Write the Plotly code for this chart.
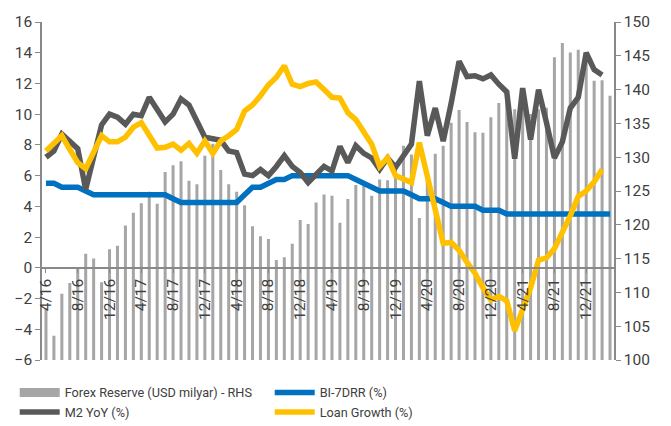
import plotly.graph_objects as go

# Monthly categories, Apr 2016 - Mar 2022
months = [
    "4/16", "5/16", "6/16", "7/16", "8/16", "9/16", "10/16", "11/16", "12/16",
    "1/17", "2/17", "3/17", "4/17", "5/17", "6/17", "7/17", "8/17", "9/17", "10/17", "11/17", "12/17",
    "1/18", "2/18", "3/18", "4/18", "5/18", "6/18", "7/18", "8/18", "9/18", "10/18", "11/18", "12/18",
    "1/19", "2/19", "3/19", "4/19", "5/19", "6/19", "7/19", "8/19", "9/19", "10/19", "11/19", "12/19",
    "1/20", "2/20", "3/20", "4/20", "5/20", "6/20", "7/20", "8/20", "9/20", "10/20", "11/20", "12/20",
    "1/21", "2/21", "3/21", "4/21", "5/21", "6/21", "7/21", "8/21", "9/21", "10/21", "11/21", "12/21",
    "1/22", "2/22", "3/22",
]
tick_labels = ["4/16", "8/16", "12/16", "4/17", "8/17", "12/17", "4/18", "8/18", "12/18",
               "4/19", "8/19", "12/19", "4/20", "8/20", "12/20", "4/21", "8/21", "12/21"]

forex_reserve = [
    107.7, 103.6, 109.8, 111.4, 113.5, 115.7, 115.0, 111.5, 116.4,
    116.9, 119.9, 121.8, 123.2, 124.9, 123.1, 127.8, 128.8, 129.4, 126.5, 126.0, 130.2,
    132.0, 128.1, 126.0, 124.9, 122.9, 119.8, 118.3, 117.9, 114.8, 115.2, 117.2, 120.7,
    120.1, 123.3, 124.5, 124.3, 120.3, 123.8, 125.9, 126.4, 124.3, 126.7, 126.6, 129.2,
    131.7, 130.4, 121.0, 127.9, 130.5, 131.7, 135.1, 137.0, 135.2, 133.7, 133.6, 135.9,
    138.0, 138.8, 137.1, 138.8, 136.4, 137.1, 137.3, 144.8, 146.9, 145.5, 145.9, 144.9,
    141.3, 141.4, 139.1,
]
bi_7drr = [
    5.5, 5.5, 5.25, 5.25, 5.25, 5.0, 4.75, 4.75, 4.75,
    4.75, 4.75, 4.75, 4.75, 4.75, 4.75, 4.75, 4.5, 4.25, 4.25, 4.25, 4.25,
    4.25, 4.25, 4.25, 4.25, 4.75, 5.25, 5.25, 5.5, 5.75, 5.75, 6.0, 6.0,
    6.0, 6.0, 6.0, 6.0, 6.0, 6.0, 5.75, 5.5, 5.25, 5.0, 5.0, 5.0,
    5.0, 4.75, 4.5, 4.5, 4.5, 4.25, 4.0, 4.0, 4.0, 4.0, 3.75, 3.75,
    3.75, 3.5, 3.5, 3.5, 3.5, 3.5, 3.5, 3.5, 3.5, 3.5, 3.5, 3.5,
    3.5, 3.5, 3.5,
]
m2_yoy = [
    7.2, 7.6, 8.7, 8.25, 7.75, 5.1, 7.3, 9.3, 10.0,
    9.8, 9.35, 10.0, 9.9, 11.1, 10.3, 9.5, 10.0, 11.0, 10.6, 9.45, 8.5,
    8.4, 8.3, 7.6, 7.5, 6.1, 6.0, 6.4, 6.0, 6.6, 7.3, 6.6, 6.2,
    5.55, 6.1, 6.6, 6.3, 7.9, 6.85, 7.95, 7.45, 7.15, 6.4, 7.15, 6.55,
    7.3, 8.05, 12.15, 8.6, 10.4, 8.25, 10.7, 13.45, 12.45, 12.5, 12.3, 12.55,
    11.95, 11.45, 7.1, 11.7, 8.35, 11.6, 9.45, 7.15, 8.2, 10.4, 11.1, 14.0,
    12.9, 12.55,
]
loan_growth = [
    7.6, 8.15, 8.6, 7.7, 6.85, 6.45, 7.5, 8.6, 8.2,
    8.2, 8.5, 9.15, 9.45, 8.7, 7.8, 7.85, 8.05, 7.65, 8.1, 7.45, 8.25,
    7.45, 8.25, 8.6, 9.0, 10.2, 10.6, 11.2, 11.9, 12.4, 13.15, 11.95, 11.8,
    12.0, 12.1, 11.6, 11.1, 11.05, 10.1, 9.65, 8.8, 8.05, 6.6, 7.15, 6.0,
    5.75, 5.55, 8.15, 6.0, 3.5, 1.6, 1.65, 1.15, 0.35, -0.35, -1.3, -2.1,
    -1.85, -2.15, -4.1, -2.6, -1.3, 0.5, 0.65, 1.25, 2.3, 3.4, 4.65, 5.0,
    5.6, 6.4,
]

text_color = "#404040"
axis_color = "#898989"

fig = go.Figure()

# Bars on the right-hand axis (drawn first, under the lines)
fig.add_trace(go.Bar(
    x=months, y=forex_reserve, yaxis="y", name="Forex Reserve (USD milyar) - RHS",
    marker=dict(color="#a6a6a6", line=dict(width=0)), showlegend=False,
))
# legend entry drawn as a wide grey stripe like the original
fig.add_trace(go.Scatter(
    x=[None], y=[None], yaxis="y", mode="lines", name="Forex Reserve (USD milyar) - RHS",
    line=dict(color="#a6a6a6", width=9), legendrank=1,
))
fig.add_trace(go.Scatter(
    x=months, y=bi_7drr, yaxis="y2", mode="lines", name="BI-7DRR (%)",
    line=dict(color="#0070c0", width=5.5), legendrank=2,
))
fig.add_trace(go.Scatter(
    x=months[:len(m2_yoy)], y=m2_yoy, yaxis="y2", mode="lines", name="M2 YoY (%)",
    line=dict(color="#595959", width=5.5), legendrank=3,
))
fig.add_trace(go.Scatter(
    x=months[:len(loan_growth)], y=loan_growth, yaxis="y2", mode="lines", name="Loan Growth (%)",
    line=dict(color="#ffc000", width=5.5), legendrank=4,
))

# page body has an 8px default margin, so the plot margins are offset by it
fig.update_layout(
    width=671, height=426,
    margin=dict(l=34, r=65, t=14, b=74),
    paper_bgcolor="white", plot_bgcolor="white",
    font=dict(family="Roboto", size=15.5, color=text_color),
    bargap=0.62,
    xaxis=dict(
        type="category", categoryorder="array", categoryarray=months,
        tickmode="array", tickvals=tick_labels, ticktext=tick_labels,
        tickangle=-90, ticks="outside", ticklen=4, tickcolor=axis_color,
        showline=True, linecolor=axis_color, linewidth=1.5,
        showgrid=False, zeroline=False, automargin=False,
        anchor="free", position=6 / 22,
        range=[-0.5, len(months) - 0.5],
    ),
    yaxis=dict(
        side="right", range=[100, 150], dtick=5,
        ticks="outside", ticklen=5, tickcolor=axis_color,
        showline=True, linecolor=axis_color, linewidth=1.5,
        showgrid=False, zeroline=False, automargin=False,
    ),
    yaxis2=dict(
        overlaying="y", side="left", range=[-6, 16], dtick=2,
        ticks="outside", ticklen=5, tickcolor=axis_color,
        showline=True, linecolor=axis_color, linewidth=1.5,
        showgrid=False, zeroline=False, automargin=False,
    ),
    legend=dict(
        orientation="h", xref="container", x=0.01, xanchor="left",
        yref="container", y=0.132, yanchor="top",
        entrywidth=200, font=dict(size=12.7, color=text_color),
        tracegroupgap=0, itemwidth=40,
    ),
)

fig.write_html("out.html")
